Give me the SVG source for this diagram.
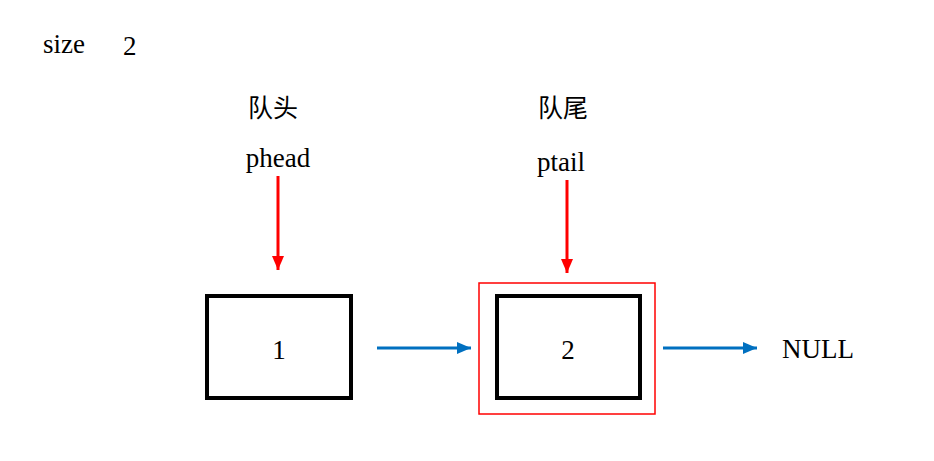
<svg xmlns="http://www.w3.org/2000/svg" width="934" height="461" viewBox="0 0 934 461">
<style>
text{font-family:"Liberation Serif","Noto Sans CJK SC",serif;font-size:27px;fill:#000}
.cjk{font-size:25px}
.box{fill:#fff;stroke:#000;stroke-width:4}
.red{stroke:#f00;stroke-width:3;fill:none}
.blue{stroke:#0070c0;stroke-width:3;fill:none}
</style>
<defs>
<marker id="ab" markerWidth="14" markerHeight="12" refX="14" refY="6" orient="auto" markerUnits="userSpaceOnUse"><path d="M0,0L14,6L0,12z" fill="#0070c0"/></marker>
<marker id="ar2" markerWidth="14" markerHeight="12" refX="14" refY="6" orient="auto" markerUnits="userSpaceOnUse"><path d="M0,0L14,6L0,12z" fill="#f00"/></marker>
</defs>
<g id="size"><text x="43" y="53">size</text><text x="123" y="55">2</text></g>
<g id="head-label"><text class="cjk" x="273" y="117" text-anchor="middle">队头</text><text x="278" y="167" text-anchor="middle">phead</text></g>
<g id="tail-label"><text class="cjk" x="563" y="117" text-anchor="middle">队尾</text><text x="561" y="171" text-anchor="middle">ptail</text></g>
<g id="node1"><rect class="box" x="207" y="296" width="144" height="102"/><text x="279" y="359" text-anchor="middle">1</text></g>
<g id="node2"><rect x="479" y="283" width="176" height="131" fill="none" stroke="#f00" stroke-width="1.5"/><rect class="box" x="497" y="296" width="143" height="102"/><text x="568" y="359" text-anchor="middle">2</text></g>
<g id="null"><text x="782" y="358">NULL</text></g>
<g id="connectors">
<line class="red" x1="278" y1="176" x2="278" y2="270" marker-end="url(#ar2)"/>
<line class="red" x1="567" y1="180" x2="567" y2="273" marker-end="url(#ar2)"/>
<line class="blue" x1="377" y1="348" x2="471" y2="348" marker-end="url(#ab)"/>
<line class="blue" x1="663" y1="348" x2="757" y2="348" marker-end="url(#ab)"/>
</g>
</svg>
